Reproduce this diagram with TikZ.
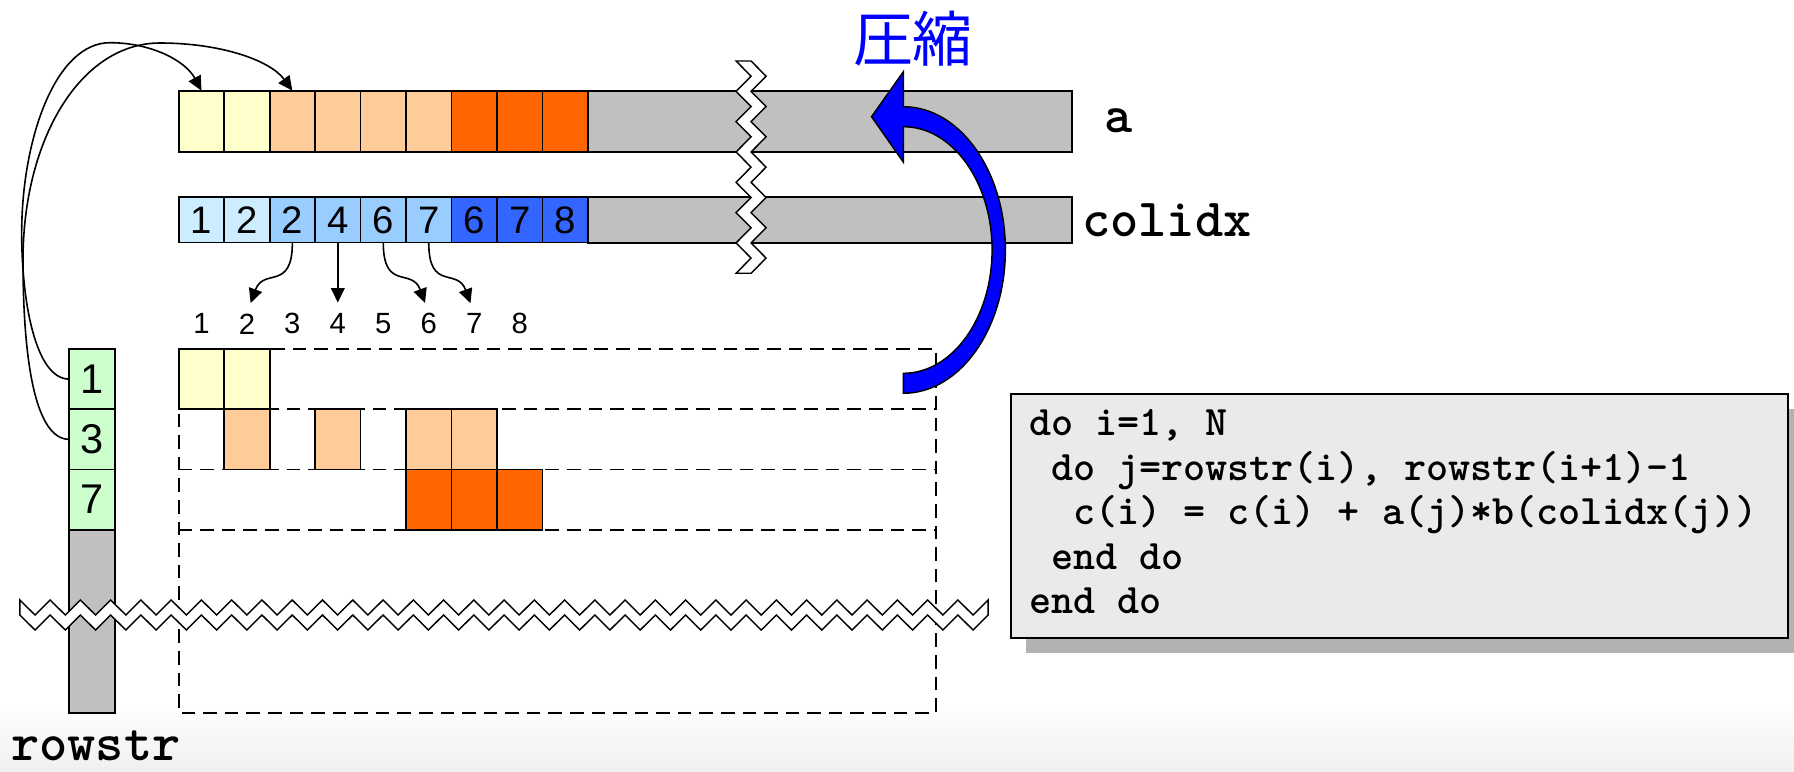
\documentclass[tikz,border=0pt]{standalone}
\usepackage{fontspec}
\setmainfont{Liberation Sans}
\newfontfamily\jpfont{Noto Sans CJK JP}
\usepackage{xcolor}
\usepackage{tikz}
\usetikzlibrary{arrows.meta}
\definecolor{valpale}{RGB}{255,255,204}
\definecolor{valmid}{RGB}{255,204,153}
\definecolor{valdark}{RGB}{255,102,0}
\definecolor{idxpale}{RGB}{204,236,255}
\definecolor{idxmid}{RGB}{153,204,255}
\definecolor{idxdark}{RGB}{51,102,255}
\definecolor{ptrgreen}{RGB}{204,255,204}
\definecolor{restgray}{RGB}{192,192,192}
\definecolor{codebg}{RGB}{234,234,234}

\begin{document}
\begin{tikzpicture}[
    cell/.style={draw, minimum width=1cm, inner sep=0pt, outer sep=0pt, line width=1.1pt},
    valcell/.style={cell, minimum height=1.35cm},
    idxcell/.style={cell, minimum height=1.0cm, font=\fontsize{24}{28}\selectfont},
    rowcell/.style={cell, minimum height=1.325cm, font=\fontsize{26}{30}\selectfont},
    rest/.style={draw, fill=restgray, line width=1.1pt},
    brk/.style={draw, fill=white, line width=0.9pt},
    mtx/.style={dash pattern=on 8.5pt off 5pt, line width=1.1pt},
    varname/.style={font=\ttfamily\bfseries\fontsize{33.6}{38}\selectfont, anchor=base west, inner sep=0pt},
    codeline/.style={font=\ttfamily\bfseries\fontsize{26.3}{30}\selectfont, anchor=base west, inner sep=0pt},
    colnum/.style={font=\fontsize{18.3}{22}\selectfont, inner sep=0pt},
    arr/.style={-{Triangle[length=9pt, width=8.5pt]}, line width=1pt},
    idxarr/.style={arr, shorten >=6.8pt},
]
\useasboundingbox (-3.931,-9.283) rectangle (35.531,7.677);
\fill[white] (-3.931,-9.283) rectangle (35.531,7.677);
\shade[top color=white, bottom color=black!6] (-3.931,-7.8) rectangle (35.531,-9.283);

% value array a
\draw[rest] (9,4.333) rectangle (19.65,5.682);
\foreach \c [count=\i] in {valpale,valpale,valmid,valmid,valmid,valmid,valdark,valdark,valdark}
    \node[valcell, fill=\c] (a\i) at (\i-0.5,5.008) {};
\node[varname] (alabel) at (20.35,4.76) {a};

% column index array
\draw[rest] (9,2.338) rectangle (19.65,3.344);
\foreach \v/\c [count=\i] in {1/idxpale,2/idxpale,2/idxmid,4/idxmid,6/idxmid,7/idxmid,6/idxdark,7/idxdark,8/idxdark}
    \node[idxcell, fill=\c] (c\i) at (\i-0.5,2.841) {\v};
\node[varname] (clabel) at (19.87,2.47) {colidx};

% break across both arrays
\draw[brk] (12.26,6.335) -- ++(0.33,0)
    foreach \k in {1,...,14} {-- ++({0.66*mod(\k,2)-0.33},-0.3335)} -- ++(-0.33,0)
    foreach \k in {1,...,14} {-- ++({0.66*mod(\k,2)-0.33},0.3335)} -- cycle;

% row pointers
\foreach \v [count=\i] in {1,3,7}
    \node[rowcell, fill=ptrgreen] (r\i) at (-1.907,{-0.6625-1.325*(\i-1)}) {\v};
\draw[rest] (-2.407,-3.975) rectangle (-1.407,-8.0);
\node[varname] (rlabel) at (-3.689,-9.05) {rowstr};

% sparse matrix
\draw[mtx] (0,0) rectangle (16.65,-8);
\foreach \y in {-1.325,-2.65,-3.975}
    \draw[mtx] (0,\y) -- (16.65,\y);
\foreach \r/\j/\c in {1/1/valpale,1/2/valpale,2/2/valmid,2/4/valmid,2/6/valmid,2/7/valmid,3/6/valdark,3/7/valdark,3/8/valdark}
    \node[rowcell, fill=\c] (m\r\j) at (\j-0.5,{-0.6625-1.325*(\r-1)}) {};
\foreach \j in {1,...,8}
    \node[colnum] (n\j) at (\j-0.5,0.554) {\j};

% break across matrix and pointers
\draw[brk] (-3.493,-5.521)
    foreach \k in {1,...,64} {-- ++(0.3328,{0.33-0.66*mod(\k,2)})} -- ++(0,-0.33)
    foreach \k in {1,...,64} {-- ++(-0.3328,{0.33-0.66*mod(\k,2)})} -- cycle;

% rowstr -> a
\draw[arr] (r1.west) .. controls (-3.161,-0.6625) and (-3.454,1.078) .. (-3.454,2.552)
    .. controls (-3.454,4.597) and (-2.721,6.738) .. (-1.511,6.738)
    .. controls (-0.631,6.738) and (0.139,6.357) .. (a1.north);
\draw[arr] (r2.west) .. controls (-3.161,-1.9875) and (-3.425,-0.242) .. (-3.425,1.958)
    .. controls (-3.425,4.597) and (-2.171,6.731) .. (-0.411,6.731)
    .. controls (0.908,6.731) and (2.008,6.357) .. (a3.north);

% colidx -> column numbers
\draw[idxarr] (c3.south) to[out=-90, in=70, looseness=1.5] (n2.north);
\draw[idxarr] (c4.south) -- (n4.north);
\draw[idxarr] (c5.south) to[out=-90, in=110, looseness=1.5] (n6.north);
\draw[idxarr] (c6.south) to[out=-90, in=110, looseness=1.5] (n7.north);

% compression arrow
\filldraw[fill=blue, draw=black, line width=0.9pt] (15.94,6.10) -- (15.24,5.11) -- (15.94,4.11) -- (15.94,4.89)
    arc[start angle=90, end angle=-90, x radius=1.951, y radius=2.712] -- (15.94,-0.974)
    arc[start angle=-90, end angle=90, x radius=2.244, y radius=3.152] -- cycle;
\node[font=\jpfont\fontsize{37.5}{40}\selectfont, text=blue, inner sep=0pt] (press) at (16.15,6.82) {圧縮};

% CRS loop
\fill[black!30] (18.64,-1.32) rectangle (35.73,-6.68);
\draw[fill=codebg, line width=1.2pt] (18.309,-0.990) rectangle (35.40,-6.351);
\node[codeline] (l1) at (18.70,-1.903) {do i=1, N};
\node[codeline] (l2) at (18.70,-2.882) {\hphantom{d}do j=rowstr(i), rowstr(i+1)-1};
\node[codeline] (l3) at (18.70,-3.861) {\hphantom{dd}c(i) = c(i) + a(j)*b(colidx(j))};
\node[codeline] (l4) at (18.70,-4.840) {\hphantom{d}end do};
\node[codeline] (l5) at (18.70,-5.819) {end do};
\end{tikzpicture}
\end{document}
